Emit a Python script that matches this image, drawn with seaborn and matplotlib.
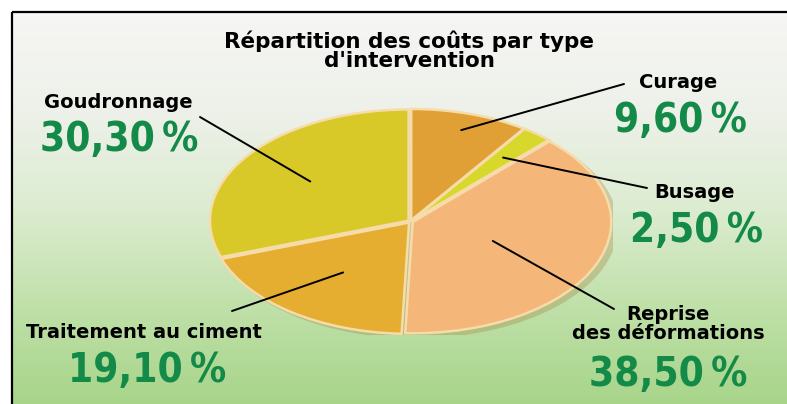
import numpy as np
import matplotlib.pyplot as plt
import seaborn as sns
from matplotlib import font_manager
from matplotlib.colors import LinearSegmentedColormap
from matplotlib.patches import Rectangle, Ellipse

# data (clockwise from the top)
categories = ['Curage', 'Busage', 'Reprise\ndes déformations', 'Traitement au ciment', 'Goudronnage']
shares = [9.6, 2.5, 38.5, 19.1, 30.3]
pct_labels = ['9,60\u2009%', '2,50\u2009%', '38,50\u2009%', '19,10\u2009%', '30,30\u2009%']
slice_colors = ['#e0a035', '#d8d82c', '#f4b679', '#e6ae30', '#d8c828']

sns.set_theme(style='white')
plt.rcParams['font.family'] = ['DejaVu Sans']

# look for a narrow bold face for the big percentages
narrow = None
for f in font_manager.fontManager.ttflist:
    if 'Narrow' in f.name or 'Condensed' in f.name or f.stretch == 'condensed':
        narrow = f
        break
if narrow is not None:
    pct_font = dict(family=[narrow.name, 'DejaVu Sans'], fontstretch='condensed', fontsize=29)
else:
    pct_font = dict(family=['Roboto', 'DejaVu Sans'], fontsize=29)

W, H = 787, 404
fig = plt.figure(figsize=(W / 100, H / 100), dpi=100)

# background with gradient and frame
bg = fig.add_axes([0, 0, 1, 1])
bg.set_xlim(0, W)
bg.set_ylim(H, 0)
bg.axis('off')
grad_cmap = LinearSegmentedColormap.from_list(
    'bg', ['#f6f6f4', '#eef1ea', '#dcecd0', '#bfe0a8', '#a6d488'])
grad = np.linspace(0, 1, 256).reshape(-1, 1)
bg.imshow(grad, cmap=grad_cmap, extent=(11, W + 5, H + 5, 11), aspect='auto', zorder=0)
bg.add_patch(Rectangle((11.5, 11.5), W, H, fill=False, ec='black', lw=1.6, zorder=1))

# squashed pie to imitate the tilted disc
left, right, top, bottom = 208, 613, 108, 335
ax = fig.add_axes([left / W, 1 - bottom / H, (right - left) / W, (bottom - top) / H])
ax.add_patch(Ellipse((0.025, -0.04), 2.04, 2.02, color='#9c7a30', alpha=0.3, lw=0, zorder=0))
wedges, _ = ax.pie(shares, colors=sns.color_palette(slice_colors), startangle=90,
                   counterclock=False, explode=[0.012] * len(shares),
                   wedgeprops=dict(edgecolor='#f6dcaa', linewidth=1.8))
for w in wedges:
    w.set_zorder(2)
ax.set_aspect('auto')
ax.set_xlim(-1.02, 1.02)
ax.set_ylim(-1.02, 1.02)
ax.axis('off')

fig.text(409 / W, 1 - 51 / H, "Répartition des coûts par type\nd'intervention",
         ha='center', va='center', fontsize=15.5, fontweight='bold', color='black',
         linespacing=0.95)

# label placement (pixel centres) and leader-line anchor radius
name_pos = [(678, 82), (695, 193), (668, 324), (144, 333), (118, 102)]
pct_pos = [(680, 121), (697, 231), (668, 375), (147, 371), (119, 140)]
line_start = [(624, 84), (647, 188), (614, 309), (232, 311), (200, 117)]
anchor_r = [0.86, 0.74, 0.45, 0.57, 0.62]

for w, name, pct, npos, ppos, ls, r in zip(wedges, categories, pct_labels,
                                           name_pos, pct_pos, line_start, anchor_r):
    mid = np.deg2rad((w.theta1 + w.theta2) / 2)
    ax.annotate('', xy=(r * np.cos(mid), r * np.sin(mid)), xycoords='data',
                xytext=(ls[0] / W, 1 - ls[1] / H), textcoords='figure fraction',
                arrowprops=dict(arrowstyle='-', color='black', lw=1.4,
                                shrinkA=0, shrinkB=0), zorder=5)
    fig.text(npos[0] / W, 1 - npos[1] / H, name, ha='center', va='center',
             fontsize=14, fontweight='bold', color='black', linespacing=1.0)
    fig.text(ppos[0] / W, 1 - ppos[1] / H, pct, ha='center', va='center',
             fontweight='bold', color='#138a48', **pct_font)

fig.savefig('out.png', dpi=100)
